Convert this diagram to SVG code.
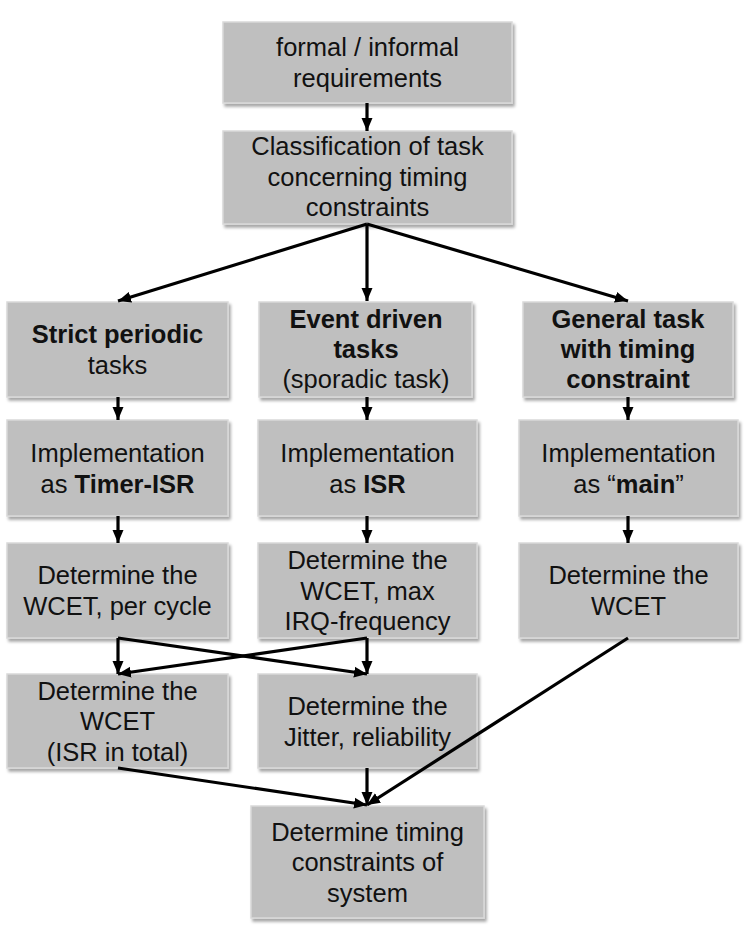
<svg xmlns="http://www.w3.org/2000/svg" width="753" height="925" viewBox="0 0 753 925">
<style>
.box{fill:#bfbfbf;stroke:#d9d9d9;stroke-width:1.5;filter:url(#sh)}
text{font-family:"Liberation Sans",Arial,sans-serif;font-size:25.5px;fill:#111;text-anchor:middle}
.b{font-weight:bold}
.c{stroke:#000;stroke-width:3.2;fill:none;marker-end:url(#ah)}
</style>
<defs>
<filter id="sh" x="-10%" y="-10%" width="125%" height="130%">
<feDropShadow dx="2" dy="3" stdDeviation="1.8" flood-color="#000" flood-opacity="0.35"/>
</filter>
<marker id="ah" markerUnits="userSpaceOnUse" markerWidth="14" markerHeight="14" viewBox="0 0 14 14" refX="13" refY="7" orient="auto">
<path d="M0,1.5 L13,7 L0,12.5 Z" fill="#000"/>
</marker>
</defs>
<rect width="753" height="925" fill="#fff"/>

<g id="n1"><rect class="box" x="223" y="22" width="289" height="81"/>
<text x="367.5" y="56">formal / informal</text><text x="367.5" y="87">requirements</text></g>

<g id="n2"><rect class="box" x="223" y="131" width="289" height="93"/>
<text x="367.5" y="155">Classification of task</text><text x="367.5" y="186">concerning timing</text><text x="367.5" y="216">constraints</text></g>

<g id="n3"><rect class="box" x="7" y="302" width="221" height="95"/>
<text x="117.5" y="343" class="b">Strict periodic</text><text x="117.5" y="374">tasks</text></g>

<g id="n4"><rect class="box" x="259" y="302" width="213" height="95"/>
<text x="366" y="328" class="b">Event driven</text><text x="366" y="358" class="b">tasks</text><text x="366" y="388">(sporadic task)</text></g>

<g id="n5"><rect class="box" x="523" y="302" width="210" height="95"/>
<text x="628" y="328" class="b">General task</text><text x="628" y="358" class="b">with timing</text><text x="628" y="388" class="b">constraint</text></g>

<g id="n6"><rect class="box" x="7" y="420" width="221" height="96"/>
<text x="117.5" y="462">Implementation</text><text x="117.5" y="493">as <tspan class="b">Timer-ISR</tspan></text></g>

<g id="n7"><rect class="box" x="258" y="420" width="219" height="96"/>
<text x="367.5" y="462">Implementation</text><text x="367.5" y="493">as <tspan class="b">ISR</tspan></text></g>

<g id="n8"><rect class="box" x="519" y="420" width="219" height="96"/>
<text x="628.5" y="462">Implementation</text><text x="628.5" y="493">as “<tspan class="b">main</tspan>”</text></g>

<g id="n9"><rect class="box" x="7" y="543" width="221" height="95"/>
<text x="117.5" y="584">Determine the</text><text x="117.5" y="615">WCET, per cycle</text></g>

<g id="n10"><rect class="box" x="258" y="543" width="219" height="95"/>
<text x="367.5" y="569">Determine the</text><text x="367.5" y="600">WCET, max</text><text x="367.5" y="630">IRQ-frequency</text></g>

<g id="n11"><rect class="box" x="519" y="543" width="219" height="95"/>
<text x="628.5" y="584">Determine the</text><text x="628.5" y="615">WCET</text></g>

<g id="n12"><rect class="box" x="7" y="674" width="221" height="94"/>
<text x="117.5" y="700">Determine the</text><text x="117.5" y="730">WCET</text><text x="117.5" y="761">(ISR in total)</text></g>

<g id="n13"><rect class="box" x="258" y="674" width="219" height="94"/>
<text x="367.5" y="715">Determine the</text><text x="367.5" y="746">Jitter, reliability</text></g>

<g id="n14"><rect class="box" x="251" y="806" width="233" height="112"/>
<text x="367.5" y="841">Determine timing</text><text x="367.5" y="871">constraints of</text><text x="367.5" y="902">system</text></g>

<g id="connectors">
<line class="c" x1="367" y1="103" x2="367" y2="131"/>
<line class="c" x1="367" y1="224" x2="118" y2="301"/>
<line class="c" x1="367" y1="224" x2="367" y2="301"/>
<line class="c" x1="367" y1="224" x2="628" y2="301"/>
<line class="c" x1="118" y1="397" x2="118" y2="420"/>
<line class="c" x1="367" y1="397" x2="367" y2="420"/>
<line class="c" x1="628" y1="397" x2="628" y2="420"/>
<line class="c" x1="118" y1="516" x2="118" y2="543"/>
<line class="c" x1="367" y1="516" x2="367" y2="543"/>
<line class="c" x1="628" y1="516" x2="628" y2="543"/>
<line class="c" x1="118" y1="638" x2="118" y2="674"/>
<line class="c" x1="367" y1="638" x2="367" y2="674"/>
<line class="c" x1="118" y1="638" x2="367" y2="674"/>
<line class="c" x1="367" y1="638" x2="118" y2="674"/>
<line class="c" x1="118" y1="768" x2="367" y2="805"/>
<line class="c" x1="367" y1="768" x2="367" y2="805"/>
<line class="c" x1="628" y1="638" x2="367" y2="805"/>
</g>
</svg>
